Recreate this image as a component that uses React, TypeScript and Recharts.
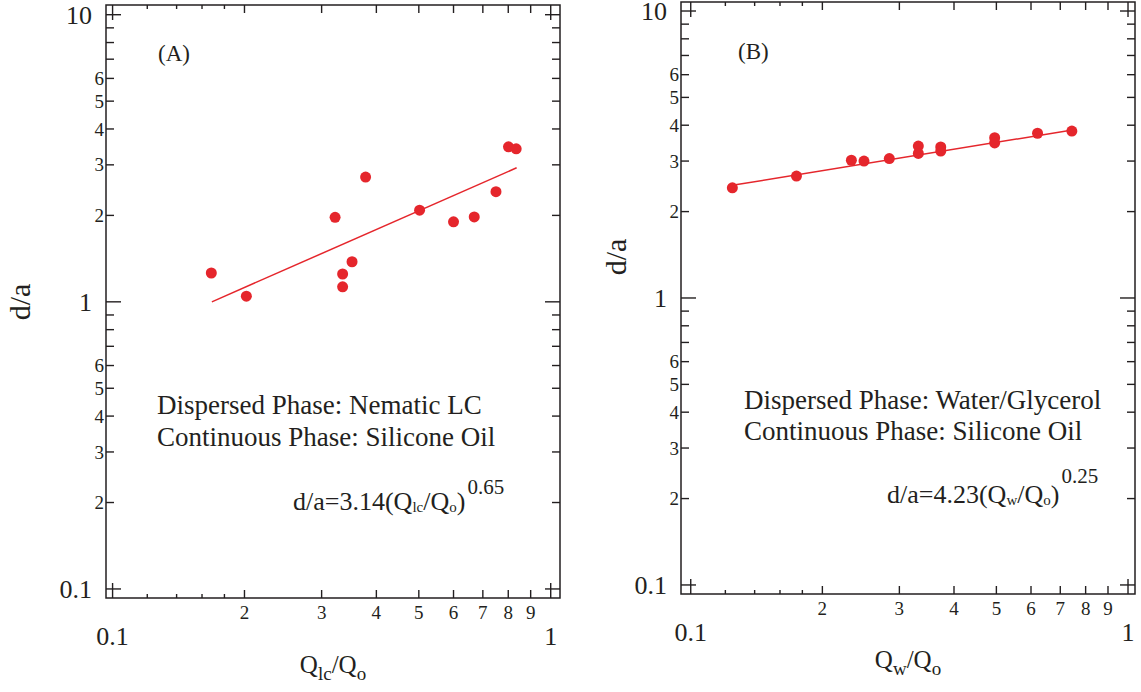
import React from 'react';
import { ScatterChart, Scatter, XAxis, YAxis, ReferenceArea } from 'recharts';

const RED = '#e5262c';
const INK = '#231f20';
const FONT = '"Liberation Serif", "Times New Roman", serif';

// ---- Panel A: Nematic LC in silicone oil ----
const qLcA = [0.168, 0.202, 0.322, 0.335, 0.335, 0.352, 0.378, 0.502, 0.600, 0.669, 0.750, 0.801, 0.834];
const dA = [1.26, 1.046, 1.97, 1.25, 1.128, 1.379, 2.72, 2.085, 1.90, 1.975, 2.418, 3.465, 3.41];
const fitQA = [0.1685, 0.836];
const fitDA = [1.0, 2.93];

// ---- Panel B: Water/Glycerol in silicone oil ----
const qWB = [0.1245, 0.1745, 0.233, 0.249, 0.2845, 0.3315, 0.3315, 0.373, 0.373, 0.4955, 0.4955, 0.621, 0.744];
const dB = [2.42, 2.66, 3.02, 3.0, 3.06, 3.385, 3.19, 3.36, 3.25, 3.62, 3.47, 3.75, 3.815];
const fitQB = [0.1245, 0.746];
const fitDB = [2.47, 3.85];

// ---- Ticks ----
const X_TICKS = [0.1, 0.12, 0.14, 0.16, 0.18, 0.2, 0.3, 0.4, 0.5, 0.6, 0.7, 0.8, 0.9, 1];
const X_TICK_LABELS = ['0.1', '', '', '', '', '2', '3', '4', '5', '6', '7', '8', '9', '1'];
const X_TICK_KIND = ['major', 'sub', 'sub', 'sub', 'sub', 'minor', 'minor', 'minor', 'minor', 'minor', 'minor', 'minor', 'minor', 'major'];
const Y_TICKS = [0.1, 0.2, 0.3, 0.4, 0.5, 0.6, 0.7, 0.8, 0.9, 1, 2, 3, 4, 5, 6, 7, 8, 9, 10];
const Y_TICK_LABELS = ['0.1', '2', '3', '4', '5', '6', '', '', '', '1', '2', '3', '4', '5', '6', '', '', '', '10'];
const Y_TICK_KIND = ['major', 'minor', 'minor', 'minor', 'minor', 'minor', 'minor', 'minor', 'minor', 'major', 'minor', 'minor', 'minor', 'minor', 'minor', 'minor', 'minor', 'minor', 'major'];

const zip = (xs: number[], ys: number[]) => xs.map((x, i) => ({ x, y: ys[i] }));

const TICK_LEN: Record<string, number> = { major: 15, minor: 8, sub: 4 };

function findIdx(arr: number[], v: number) {
  return arr.findIndex((t) => Math.abs(Math.log10(t) - Math.log10(v)) < 1e-6);
}

type Frame = { l: number; r: number; t: number; b: number };
type Panel = {
  left: number;
  width: number;
  frame: Frame; // page coordinates
  xDomain: [number, number];
  yDomain: [number, number];
};

const PANEL_A: Panel = {
  left: 0,
  width: 570,
  frame: { l: 106, r: 560, t: 5, b: 598 },
  xDomain: [0.0966, 1.05],
  yDomain: [0.093, 10.81],
};
const PANEL_B: Panel = {
  left: 570,
  width: 571,
  frame: { l: 681, r: 1135, t: 2, b: 594 },
  xDomain: [0.095, 1.0375],
  yDomain: [0.093, 10.75],
};

const textStyle = { fontFamily: FONT };

function makeXTick(f: Frame) {
  return (props: any) => {
    const { x, payload } = props;
    const i = findIdx(X_TICKS, payload.value);
    if (i < 0) return <g />;
    const kind = X_TICK_KIND[i];
    const len = TICK_LEN[kind];
    const label = X_TICK_LABELS[i];
    return (
      <g>
        <line x1={x} x2={x} y1={f.b} y2={f.b - len} stroke={INK} strokeWidth={1.4} />
        <line x1={x} x2={x} y1={f.t} y2={f.t + len} stroke={INK} strokeWidth={1.4} />
        {label !== '' && (
          <text
            x={x}
            y={kind === 'major' ? f.b + 47 : f.b + 21}
            textAnchor="middle"
            style={textStyle}
            fontSize={kind === 'major' ? 26 : 19}
            fill={INK}
          >
            {label}
          </text>
        )}
      </g>
    );
  };
}

function makeYTick(f: Frame) {
  return (props: any) => {
    const { y, payload } = props;
    const i = findIdx(Y_TICKS, payload.value);
    if (i < 0) return <g />;
    const kind = Y_TICK_KIND[i];
    const len = TICK_LEN[kind];
    const label = Y_TICK_LABELS[i];
    return (
      <g>
        <line x1={f.l} x2={f.l + len} y1={y} y2={y} stroke={INK} strokeWidth={1.4} />
        <line x1={f.r} x2={f.r - len} y1={y} y2={y} stroke={INK} strokeWidth={1.4} />
        {label !== '' && (
          <text
            x={kind === 'major' ? f.l - 14 : f.l - 2}
            y={y}
            dy="0.35em"
            textAnchor="end"
            style={textStyle}
            fontSize={kind === 'major' ? 26 : 19}
            fill={INK}
          >
            {label}
          </text>
        )}
      </g>
    );
  };
}

const dot = (p: any) => <circle cx={p.cx} cy={p.cy} r={5.5} fill={RED} />;
const noDot = () => <g />;

function PanelChart({ panel, points, fit }: { panel: Panel; points: { x: number; y: number }[]; fit: { x: number; y: number }[] }) {
  const local: Frame = {
    l: panel.frame.l - panel.left,
    r: panel.frame.r - panel.left,
    t: panel.frame.t,
    b: panel.frame.b,
  };
  const H = 692;
  return (
    <div style={{ position: 'absolute', left: panel.left, top: 0, width: panel.width, height: H }}>
      <ScatterChart
        width={panel.width}
        height={H}
        margin={{ top: local.t, right: panel.width - local.r, bottom: 0, left: 0 }}
      >
        <XAxis
          type="number"
          dataKey="x"
          scale="log"
          domain={panel.xDomain}
          allowDataOverflow
          ticks={X_TICKS}
          interval={0}
          height={H - local.b}
          axisLine={false}
          tickLine={false}
          tick={makeXTick(local)}
        />
        <YAxis
          type="number"
          dataKey="y"
          scale="log"
          domain={panel.yDomain}
          allowDataOverflow
          ticks={Y_TICKS}
          interval={0}
          width={local.l}
          axisLine={false}
          tickLine={false}
          tick={makeYTick(local)}
        />
        <ReferenceArea
          x1={panel.xDomain[0]}
          x2={panel.xDomain[1]}
          y1={panel.yDomain[0]}
          y2={panel.yDomain[1]}
          fill="none"
          fillOpacity={0}
          stroke={INK}
          strokeWidth={1.5}
          ifOverflow="visible"
        />
        <Scatter
          data={fit}
          line={{ stroke: RED, strokeWidth: 1.5 }}
          shape={noDot}
          isAnimationActive={false}
        />
        <Scatter data={points} shape={dot} isAnimationActive={false} />
      </ScatterChart>
    </div>
  );
}

function Overlay() {
  const t = { style: textStyle, fill: INK };
  return (
    <svg
      width={1141}
      height={692}
      style={{ position: 'absolute', left: 0, top: 0, pointerEvents: 'none' }}
    >
      {/* Panel A */}
      <text x={158} y={61} fontSize={23} {...t}>(A)</text>
      <text x={157} y={414} fontSize={27} {...t}>Dispersed Phase: Nematic LC</text>
      <text x={157} y={446} fontSize={27} {...t}>Continuous Phase: Silicone Oil</text>
      <text x={293} y={510} fontSize={26} {...t}>
        d/a=3.14(Q<tspan fontSize={15} dy={2}>lc</tspan>
        <tspan dy={-2}>/Q</tspan>
        <tspan fontSize={15} dy={2}>o</tspan>
        <tspan dy={-2}>)</tspan>
        <tspan fontSize={21} dy={-16} dx={2}>0.65</tspan>
      </text>
      <text transform="translate(30,302) rotate(-90)" textAnchor="middle" fontSize={30} {...t}>d/a</text>
      <text x={333} y={673} textAnchor="middle" fontSize={25} {...t}>
        Q<tspan fontSize={19} dy={7}>lc</tspan>
        <tspan dy={-7}>/Q</tspan>
        <tspan fontSize={19} dy={7}>o</tspan>
      </text>

      {/* Panel B */}
      <text x={738} y={59} fontSize={23} {...t}>(B)</text>
      <text x={744} y={409} fontSize={27} {...t}>Dispersed Phase: Water/Glycerol</text>
      <text x={744} y={440} fontSize={27} {...t}>Continuous Phase: Silicone Oil</text>
      <text x={887} y={503} fontSize={26} {...t}>
        d/a=4.23(Q<tspan fontSize={15} dy={2}>w</tspan>
        <tspan dy={-2}>/Q</tspan>
        <tspan fontSize={15} dy={2}>o</tspan>
        <tspan dy={-2}>)</tspan>
        <tspan fontSize={21} dy={-20} dx={2}>0.25</tspan>
      </text>
      <text transform="translate(626,257) rotate(-90)" textAnchor="middle" fontSize={30} {...t}>d/a</text>
      <text x={908} y={668} textAnchor="middle" fontSize={25} {...t}>
        Q<tspan fontSize={19} dy={7}>w</tspan>
        <tspan dy={-7}>/Q</tspan>
        <tspan fontSize={19} dy={7}>o</tspan>
      </text>
    </svg>
  );
}

export default function App() {
  return (
    <div style={{ position: 'absolute', left: 0, top: 0, width: 1141, height: 692, background: '#fff' }}>
      <PanelChart panel={PANEL_A} points={zip(qLcA, dA)} fit={zip(fitQA, fitDA)} />
      <PanelChart panel={PANEL_B} points={zip(qWB, dB)} fit={zip(fitQB, fitDB)} />
      <Overlay />
    </div>
  );
}
